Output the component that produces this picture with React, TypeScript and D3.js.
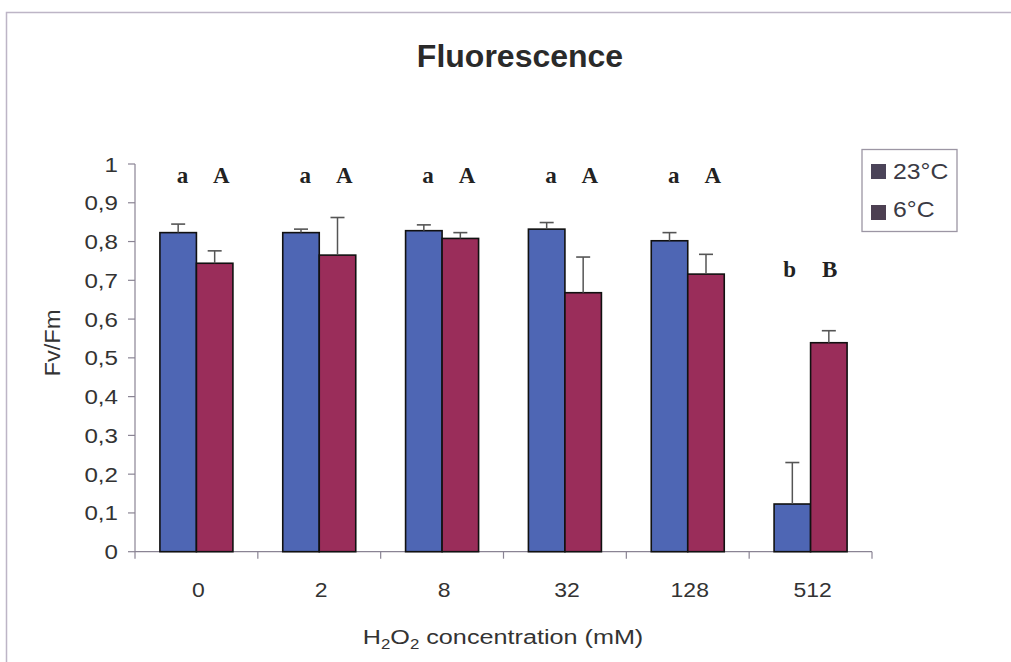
import React from "react";
import * as d3 from "d3";

const categories = ["0", "2", "8", "32", "128", "512"];
const seriesNames = ["23°C", "6°C"];
const values23 = [0.823, 0.823, 0.828, 0.832, 0.802, 0.123];
const errors23 = [0.022, 0.009, 0.015, 0.017, 0.021, 0.107];
const values6 = [0.744, 0.765, 0.808, 0.668, 0.716, 0.539];
const errors6 = [0.032, 0.097, 0.015, 0.092, 0.051, 0.031];
const lowerLetters = ["a", "a", "a", "a", "a", "b"];
const upperLetters = ["A", "A", "A", "A", "A", "B"];
const letterLevels = [0.951, 0.951, 0.951, 0.951, 0.951, 0.709];
const yTicks = [0, 0.1, 0.2, 0.3, 0.4, 0.5, 0.6, 0.7, 0.8, 0.9, 1];
const yTickLabels = ["0", "0,1", "0,2", "0,3", "0,4", "0,5", "0,6", "0,7", "0,8", "0,9", "1"];
const barColors = ["#4e66b4", "#9a2d5a"];
const legendColors = ["#4b4459", "#4d4052"];

const W = 1011;
const H = 662;
const left = 135;
const right = 872;
const top = 164;
const bottom = 551.7;

export default function App() {
  const x0 = d3.scaleBand<string>().domain(categories).range([left, right]).padding(0);
  const groupW = 73;
  const x1 = d3.scaleBand<string>().domain(seriesNames).range([-groupW / 2, groupW / 2]).padding(0);
  const y = d3.scaleLinear().domain([0, 1]).range([bottom, top]);
  const bw = x1.bandwidth();
  const series = [
    { name: seriesNames[0], values: values23, errors: errors23, color: barColors[0] },
    { name: seriesNames[1], values: values6, errors: errors6, color: barColors[1] },
  ];
  const boundaries = categories.map((c) => x0(c)!).concat([right]);
  const sans = "'Liberation Sans', Arial, sans-serif";
  const serif = "'Liberation Serif', 'Times New Roman', serif";
  const axisColor = "#8a8494";
  const textColor = "#333";

  return (
    <svg width={W} height={H} style={{ position: "absolute", left: 0, top: 0, background: "#fff" }}>
      <rect x={6.5} y={12.5} width={1100} height={800} fill="#fff" stroke="#bdb5c6" strokeWidth={1.5} />
      <text x={520} y={66.5} textAnchor="middle" fontFamily={sans} fontWeight="bold" fontSize={32} fill="#2a2a2a">
        Fluorescence
      </text>

      {/* y axis */}
      <line x1={left} x2={left} y1={y(1)} y2={y(0)} stroke={axisColor} strokeWidth={1.2} />
      {yTicks.map((t, i) => (
        <g key={"yt" + i}>
          <line x1={left - 7} x2={left} y1={y(t)} y2={y(t)} stroke={axisColor} strokeWidth={1.2} />
          <text
            transform={`translate(${left - 17},${y(t) + 7.5}) scale(1.15,1)`}
            textAnchor="end"
            fontFamily={sans}
            fontSize={21}
            fill={textColor}
          >
            {yTickLabels[i]}
          </text>
        </g>
      ))}
      <text
        transform={`translate(60,343) rotate(-90) scale(1.08,1)`}
        textAnchor="middle"
        fontFamily={sans}
        fontSize={22}
        fill={textColor}
      >
        Fv/Fm
      </text>

      {/* x axis */}
      <line x1={left} x2={right} y1={y(0)} y2={y(0)} stroke={axisColor} strokeWidth={1.2} />
      {boundaries.map((b, i) => (
        <line key={"xt" + i} x1={b} x2={b} y1={y(0)} y2={y(0) + 7} stroke={axisColor} strokeWidth={1.2} />
      ))}
      {categories.map((c) => (
        <text
          key={"xl" + c}
          transform={`translate(${x0(c)! + x0.bandwidth() / 2 + 2},${597}) scale(1.12,1)`}
          textAnchor="middle"
          fontFamily={sans}
          fontSize={20.5}
          fill={textColor}
        >
          {c}
        </text>
      ))}
      <text
        transform={`translate(503,644) scale(1.2,1)`}
        textAnchor="middle"
        fontFamily={sans}
        fontSize={21}
        fill={textColor}
      >
        H<tspan fontSize={14} dy={5}>2</tspan>
        <tspan dy={-5}>O</tspan>
        <tspan fontSize={14} dy={5}>2</tspan>
        <tspan dy={-5}> concentration (mM)</tspan>
      </text>

      {/* bars */}
      {series.map((s) => (
        <g key={s.name}>
          {categories.map((c, i) => {
            const bx = x0(c)! + x0.bandwidth() / 2 + x1(s.name)!;
            const cx = bx + bw / 2;
            const yv = y(s.values[i]);
            const ye = y(s.values[i] + s.errors[i]);
            return (
              <g key={c}>
                <rect x={bx} y={yv} width={bw} height={y(0) - yv} fill={s.color} stroke="#111" strokeWidth={1.6} />
                <line x1={cx} x2={cx} y1={yv} y2={ye} stroke="#555" strokeWidth={1.5} />
                <line x1={cx - 7} x2={cx + 7} y1={ye} y2={ye} stroke="#555" strokeWidth={1.6} />
              </g>
            );
          })}
        </g>
      ))}

      {/* significance letters */}
      {categories.map((c, i) => {
        const cx = x0(c)! + x0.bandwidth() / 2;
        const last = i === categories.length - 1;
        return (
          <g key={"lt" + c} fontFamily={serif} fontWeight="bold" fontSize={23} fill="#222" textAnchor="middle">
            <text x={cx + (last ? -21 : -14)} y={y(letterLevels[i])}>{lowerLetters[i]}</text>
            <text x={cx + (last ? 19 : 25)} y={y(letterLevels[i])}>{upperLetters[i]}</text>
          </g>
        );
      })}

      {/* legend */}
      <rect x={862} y={149.5} width={95} height={82} fill="#fff" stroke="#9c96a4" strokeWidth={1.3} />
      {seriesNames.map((n, i) => (
        <g key={"lg" + n}>
          <rect x={871} y={164 + i * 41} width={15} height={15} fill={legendColors[i]} />
          <text
            transform={`translate(893,${179 + i * 38}) scale(1.1,1)`}
            fontFamily={sans}
            fontSize={22.5}
            fill="#3a3a44"
          >
            {n}
          </text>
        </g>
      ))}
    </svg>
  );
}
